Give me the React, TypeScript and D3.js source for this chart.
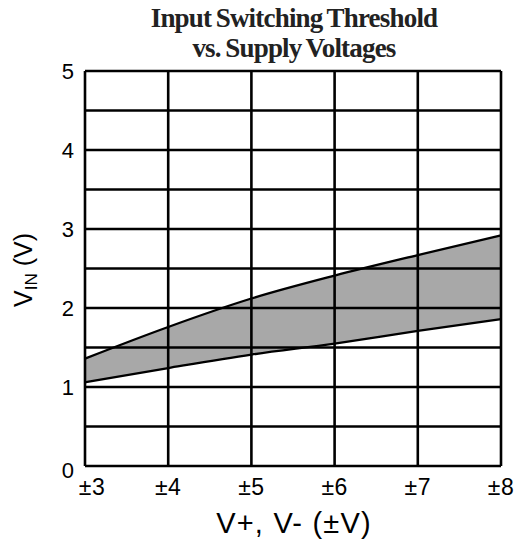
import { useMemo } from "react";
import * as d3 from "d3";

const supply = [3, 4, 5, 6, 7, 8];
const upperThreshold = [1.36, 1.76, 2.12, 2.41, 2.67, 2.92];
const lowerThreshold = [1.06, 1.24, 1.41, 1.55, 1.71, 1.86];
const xTicks = [3, 4, 5, 6, 7, 8];
const yTicks = [0, 1, 2, 3, 4, 5];
const yGrid = [0, 0.5, 1, 1.5, 2, 2.5, 3, 3.5, 4, 4.5, 5];
const titleLines = ["Input Switching Threshold", "vs. Supply Voltages"];

const W = 524;
const H = 544;
const margin = { left: 85, right: 23, top: 71, bottom: 78 };

export default function App() {
  const x = useMemo(
    () => d3.scaleLinear().domain([3, 8]).range([margin.left, W - margin.right]),
    []
  );
  const y = useMemo(
    () => d3.scaleLinear().domain([0, 5]).range([H - margin.bottom, margin.top]),
    []
  );

  const rows = supply.map((s, i) => ({ s, lo: lowerThreshold[i], hi: upperThreshold[i] }));

  const band = d3
    .area<(typeof rows)[number]>()
    .x((d) => x(d.s))
    .y0((d) => y(d.lo))
    .y1((d) => y(d.hi))
    .curve(d3.curveMonotoneX)(rows);
  const upper = d3
    .line<(typeof rows)[number]>()
    .x((d) => x(d.s))
    .y((d) => y(d.hi))
    .curve(d3.curveMonotoneX)(rows);
  const lower = d3
    .line<(typeof rows)[number]>()
    .x((d) => x(d.s))
    .y((d) => y(d.lo))
    .curve(d3.curveMonotoneX)(rows);

  const sans = "'Liberation Sans', Arial, sans-serif";
  const serif = "'Liberation Serif', 'Times New Roman', serif";

  return (
    <svg
      width={W}
      height={H}
      style={{ position: "absolute", left: 0, top: 0, background: "#fff" }}
    >
      {titleLines.map((t, i) => (
        <text
          key={t}
          x={294}
          y={27 + i * 30}
          textAnchor="middle"
          fontFamily={serif}
          fontWeight="bold"
          fontSize={27}
          letterSpacing={-0.8}
          wordSpacing={-1.5}
          fill="#222"
        >
          {t}
        </text>
      ))}

      <path d={band ?? ""} fill="#a8a8a8" />

      {yGrid.map((v) => (
        <line
          key={"h" + v}
          x1={x(3)}
          x2={x(8)}
          y1={y(v)}
          y2={y(v)}
          stroke="#000"
          strokeWidth={2.6}
        />
      ))}
      {xTicks.map((v) => (
        <line
          key={"v" + v}
          x1={x(v)}
          x2={x(v)}
          y1={y(0)}
          y2={y(5)}
          stroke="#000"
          strokeWidth={2.6}
        />
      ))}

      <path d={upper ?? ""} fill="none" stroke="#000" strokeWidth={2.3} />
      <path d={lower ?? ""} fill="none" stroke="#000" strokeWidth={2.3} />

      {yTicks.map((v) => (
        <text
          key={"yl" + v}
          x={74}
          y={y(v) + (v === 0 ? 12 : 8)}
          textAnchor="end"
          fontFamily={sans}
          fontSize={22}
          fill="#000"
        >
          {v}
        </text>
      ))}
      {xTicks.map((v, i) => (
        <text
          key={"xl" + v}
          x={x(v) + (i === 0 ? 7 : 0)}
          y={495}
          textAnchor="middle"
          fontFamily={sans}
          fontSize={23}
          letterSpacing={0.5}
          fill="#000"
        >
          {"±" + v}
        </text>
      ))}

      <text
        x={294}
        y={533}
        textAnchor="middle"
        fontFamily={sans}
        fontSize={29}
        letterSpacing={1.2}
        fill="#000"
      >
        V+, V- (±V)
      </text>

      <text
        transform={`translate(32, 270) rotate(-90)`}
        textAnchor="middle"
        fontFamily={sans}
        fontSize={25}
        fill="#000"
      >
        V
        <tspan fontSize={17} dy={5}>
          IN
        </tspan>
        <tspan dy={-5}> (V)</tspan>
      </text>
    </svg>
  );
}
